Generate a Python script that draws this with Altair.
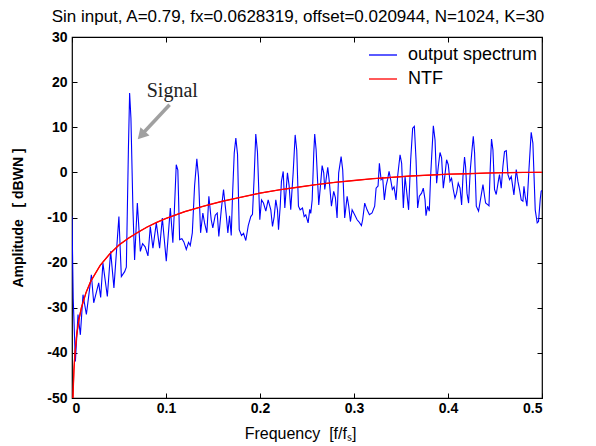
import altair as alt
import pandas as pd

# ---------------- data ----------------
freq_out = [0.0, 0.0013, 0.0036, 0.0064, 0.0089, 0.0117, 0.0153, 0.0206, 0.0231, 0.0284,
            0.0305, 0.0329, 0.0376, 0.0411, 0.0446, 0.0499, 0.0525, 0.0560, 0.0578, 0.0600,
            0.0613, 0.0627, 0.0648, 0.0666, 0.0695, 0.0727, 0.0751, 0.0778, 0.0808, 0.0833,
            0.0861, 0.0897, 0.0932, 0.0961, 0.1003, 0.1046, 0.1073, 0.1088, 0.1109, 0.1126,
            0.1145, 0.1169, 0.1190, 0.1216, 0.1240, 0.1258, 0.1280, 0.1304, 0.1328, 0.1346,
            0.1368, 0.1392, 0.1410, 0.1435, 0.1456, 0.1481, 0.1498, 0.1524, 0.1545, 0.1562,
            0.1588, 0.1612, 0.1641, 0.1658, 0.1676, 0.1694, 0.1708, 0.1726, 0.1743, 0.1761,
            0.1779, 0.1803, 0.1825, 0.1849, 0.1875, 0.1902, 0.1920, 0.1938, 0.1955, 0.1973,
            0.1998, 0.2016, 0.2037, 0.2062, 0.2087, 0.2115, 0.2133, 0.2151, 0.2168, 0.2186,
            0.2197, 0.2215, 0.2228, 0.2247, 0.2264, 0.2292, 0.2310, 0.2327, 0.2353, 0.2374,
            0.2391, 0.2409, 0.2427, 0.2452, 0.2470, 0.2487, 0.2512, 0.2529, 0.2540, 0.2555,
            0.2572, 0.2582, 0.2597, 0.2625, 0.2643, 0.2661, 0.2678, 0.2689, 0.2703, 0.2721,
            0.2739, 0.2760, 0.2784, 0.2802, 0.2820, 0.2837, 0.2863, 0.2880, 0.2901, 0.2927,
            0.2944, 0.2962, 0.2980, 0.3007, 0.3033, 0.3050, 0.3079, 0.3092, 0.3114, 0.3139,
            0.3164, 0.3192, 0.3220, 0.3235, 0.3256, 0.3270, 0.3288, 0.3305, 0.3323, 0.3341,
            0.3358, 0.3373, 0.3390, 0.3408, 0.3426, 0.3447, 0.3464, 0.3490, 0.3507, 0.3525,
            0.3543, 0.3560, 0.3581, 0.3603, 0.3624, 0.3642, 0.3660, 0.3677, 0.3695, 0.3719,
            0.3737, 0.3756, 0.3766, 0.3783, 0.3801, 0.3815, 0.3844, 0.3862, 0.3879, 0.3897,
            0.3915, 0.3932, 0.3950, 0.3968, 0.3985, 0.4003, 0.4021, 0.4038, 0.4056, 0.4074,
            0.4091, 0.4109, 0.4128, 0.4145, 0.4159, 0.4176, 0.4187, 0.4202, 0.4219, 0.4237,
            0.4255, 0.4269, 0.4283, 0.4301, 0.4325, 0.4346, 0.4372, 0.4389, 0.4400, 0.4425,
            0.4436, 0.4450, 0.4463, 0.4478, 0.4495, 0.4513, 0.4538, 0.4548, 0.4566, 0.4584,
            0.4601, 0.4620, 0.4638, 0.4655, 0.4673, 0.4691, 0.4701, 0.4715, 0.4726, 0.4744,
            0.4761, 0.4779, 0.4797, 0.4808, 0.4821, 0.4840, 0.4861, 0.4885, 0.4903, 0.4928,
            0.4949, 0.4963, 0.4981, 0.4991, 0.5000]
amp_out = [-9.8, -28.0, -41.9, -31.5, -36.0, -27.1, -31.5, -22.7, -28.9, -24.5,
           -27.7, -20.1, -27.5, -17.5, -25.6, -9.8, -23.1, -22.0, -21.0, 5.0,
           17.6, 12.0, -8.0, -19.4, -6.8, -17.5, -15.8, -16.5, -18.5, -12.0,
           -16.8, -11.2, -16.8, -10.1, -19.7, -7.9, -15.6, -9.0, 1.7, 0.5,
           -14.9, -14.7, -15.4, -17.1, -15.5, -16.2, -13.4, -3.0, 3.0, -1.0,
           -13.4, -9.0, -11.2, -13.4, -5.3, -10.5, -12.3, -9.5, -9.0, -14.2,
           -8.3, -3.8, -9.5, -13.4, -9.6, -14.0, -5.0, 4.3, 7.6, 4.0,
           -12.7, -14.0, -13.5, -15.1, -11.8, -9.8, -9.3, -1.0, 8.5, 4.5,
           -10.5, -6.1, -6.8, -8.6, -6.1, -8.3, -12.0, -9.8, -6.1, -8.3,
           -12.7, -7.5, -2.0, 0.2, -7.9, -0.1, -3.0, -8.3, 0.0, 8.3,
           4.9, -7.5, -8.3, -7.9, -9.8, -9.4, -11.2, -8.2, -9.1, -6.1,
           4.3, 8.5, 5.0, -7.2, -3.0, 1.5, -0.1, -3.8, -1.6, 1.1,
           -2.4, -7.5, -4.2, -5.6, -10.1, -0.1, 3.5, 0.5, -10.1, -5.3,
           -7.5, -10.9, -8.3, -9.4, -10.5, -10.9, -11.8, -10.5, -6.8, -8.3,
           -9.4, -9.0, -7.5, -3.5, -3.0, 2.0, -1.6, -1.2, -6.1, -3.0,
           -1.5, 0.2, -1.6, -3.8, -3.2, -6.1, -0.9, 3.9, 2.0, -7.9,
           -0.9, -4.2, -8.3, 2.8, 9.8, 10.2, 2.8, -7.9, -5.3, -4.6,
           -3.5, -6.1, -9.6, -7.5, -8.6, -0.9, 10.3, 7.2, -2.4, 1.3,
           4.4, 3.2, -3.5, -0.5, 2.8, 1.7, -2.0, -1.3, -3.8, -5.7,
           -4.6, -2.4, -3.5, -7.2, -1.0, 3.4, 1.3, -4.6, -6.8, 0.5,
           4.9, 8.0, 4.3, -7.5, -8.6, -6.0, -2.7, -5.3, -6.8, -7.2,
           -7.4, 1.3, 7.4, 5.0, -3.8, -4.9, -1.6, -0.5, -3.5, 1.3,
           4.6, 4.8, -0.5, -1.6, -0.9, -3.5, -5.0, -2.0, 0.6, -2.0,
           -3.8, -6.1, -6.4, -3.1, -5.3, -7.5, 0.6, 8.9, 6.5, -8.3,
           -11.2, -10.9, -6.0, -4.2, -4.0]

freq_ntf = [0.001, 0.002, 0.003, 0.005, 0.0075, 0.01, 0.015, 0.02, 0.03, 0.04,
            0.05, 0.06, 0.07, 0.08, 0.09, 0.10, 0.12, 0.14, 0.16, 0.18,
            0.20, 0.22, 0.24, 0.26, 0.28, 0.30, 0.32, 0.34, 0.36, 0.38,
            0.40, 0.42, 0.44, 0.46, 0.48, 0.50]
amp_ntf = [-50.0, -44.0, -40.5, -36.0, -32.5, -30.0, -26.6, -24.1, -20.6, -18.1,
           -16.1, -14.6, -13.3, -12.1, -11.1, -10.2, -8.7, -7.5, -6.4, -5.5,
           -4.6, -3.9, -3.3, -2.7, -2.2, -1.8, -1.4, -1.1, -0.8, -0.6,
           -0.4, -0.3, -0.15, -0.07, -0.02, 0.0]

series_names = ["output spectrum", "NTF"]
x_ticks = [0, 0.1, 0.2, 0.3, 0.4, 0.5]
y_ticks = [-50, -40, -30, -20, -10, 0, 10, 20, 30]

title_text = "Sin input, A=0.79, fx=0.0628319, offset=0.020944, N=1024, K=30"
x_title = "Frequency\u00a0\u00a0[f/f\u209b]"
y_title = "Amplitude\u00a0\u00a0\u00a0[ dBWN ]"

signal_text = ["Signal"]
signal_f = [0.1067]
signal_db = [16.8]
arrow_f = [0.1038, 0.0765]
arrow_db = [15.0, 8.9]
head_f = [0.0738]
head_db = [8.2]

# ---------------- layout / style ----------------
W, H = 470, 361
FONT = "Liberation Sans"
BLUE, RED, GREY = "#0000ff", "#ff0000", "#a0a0a0"

df_lines = pd.concat([
    pd.DataFrame({"f": freq_out, "dB": amp_out, "series": series_names[0]}),
    pd.DataFrame({"f": freq_ntf, "dB": amp_ntf, "series": series_names[1]}),
], ignore_index=True)
df_ntf = pd.DataFrame({"f": freq_ntf, "dB": amp_ntf})
df_sig = pd.DataFrame({"f": signal_f, "dB": signal_db, "t": signal_text})
df_arrow = pd.DataFrame({"f": arrow_f, "dB": arrow_db})
df_head = pd.DataFrame({"f": head_f, "dB": head_db})

xs = alt.Scale(domain=[0, 0.5], nice=False, zero=False)
ys = alt.Scale(domain=[-50, 30], nice=False, zero=False)


def tick_axis(orient, values, offset):
    return alt.Axis(orient=orient, offset=offset, values=values, labels=False,
                    ticks=True, tickSize=5, tickColor="black", tickWidth=1,
                    domain=False, grid=False, title="")


x_main = alt.Axis(orient="bottom", values=x_ticks, labelExpr="toString(datum.value)",
                  labelFont=FONT, labelFontSize=14, labelFontWeight="bold",
                  labelColor="black", labelPadding=3, tickSize=0, domain=False,
                  grid=False, title=x_title, titleFont=FONT, titleFontSize=16,
                  titleFontWeight="normal", titleColor="black", titleX=228,
                  titleY=40, titleBaseline="alphabetic", titleAlign="center")
y_main = alt.Axis(orient="left", values=y_ticks, labelExpr="toString(datum.value)",
                  labelFont=FONT, labelFontSize=14, labelFontWeight="bold",
                  labelColor="black", labelPadding=5, tickSize=0, domain=False,
                  grid=False, title=y_title, titleFont=FONT, titleFontSize=14,
                  titleFontWeight="bold", titleColor="black", titleX=-54,
                  titleY=H / 2, titleAngle=270, titleBaseline="middle",
                  titleAlign="center")

lines = alt.Chart(df_lines).mark_line(strokeWidth=1.1, clip=True).encode(
    x=alt.X("f:Q", scale=xs, axis=x_main),
    y=alt.Y("dB:Q", scale=ys, axis=y_main),
    color=alt.Color("series:N",
                    scale=alt.Scale(domain=series_names, range=[BLUE, RED]),
                    legend=alt.Legend(orient="none", legendX=296, legendY=3,
                                      title=None, symbolType="stroke",
                                      symbolSize=784, symbolStrokeWidth=1.3,
                                      labelFont=FONT, labelFontSize=18,
                                      labelColor="black", labelOffset=10,
                                      padding=0, rowPadding=-11)),
)

ntf_top = alt.Chart(df_ntf).mark_line(color=RED, strokeWidth=1.3, clip=True).encode(
    x=alt.X("f:Q", scale=xs, axis=tick_axis("top", x_ticks, -H)),
    y=alt.Y("dB:Q", scale=ys, axis=tick_axis("right", y_ticks, -W)),
)

sig = alt.Chart(df_sig).mark_text(font="Liberation Serif", fontSize=20,
                                  align="center", baseline="alphabetic",
                                  color="#222222").encode(
    x=alt.X("f:Q", scale=xs, axis=tick_axis("bottom", x_ticks, -H)),
    y=alt.Y("dB:Q", scale=ys, axis=tick_axis("left", y_ticks, -W)),
    text="t:N",
)

shaft = alt.Chart(df_arrow).mark_line(color=GREY, strokeWidth=3.5).encode(
    x=alt.X("f:Q", scale=xs, axis=None),
    y=alt.Y("dB:Q", scale=ys, axis=None),
)
head = alt.Chart(df_head).mark_point(shape="triangle-up", angle=222.5, filled=True,
                                     size=150, color=GREY, opacity=1).encode(
    x=alt.X("f:Q", scale=xs, axis=None),
    y=alt.Y("dB:Q", scale=ys, axis=None),
)

chart = alt.layer(lines, ntf_top, sig, shaft, head).resolve_axis(
    x="independent", y="independent"
).properties(
    width=W, height=H,
    autosize=alt.AutoSizeParams(type="none"),
    padding={"left": 64, "top": 29, "right": 30, "bottom": 46},
    title=alt.TitleParams(title_text, font=FONT, fontSize=17, fontWeight="normal",
                          color="black", anchor="middle", dx=-9, offset=4),
    background="white",
).configure_view(stroke="black", strokeWidth=1.2)

chart.save("out.html", embed_options={"renderer": "svg", "actions": False})
